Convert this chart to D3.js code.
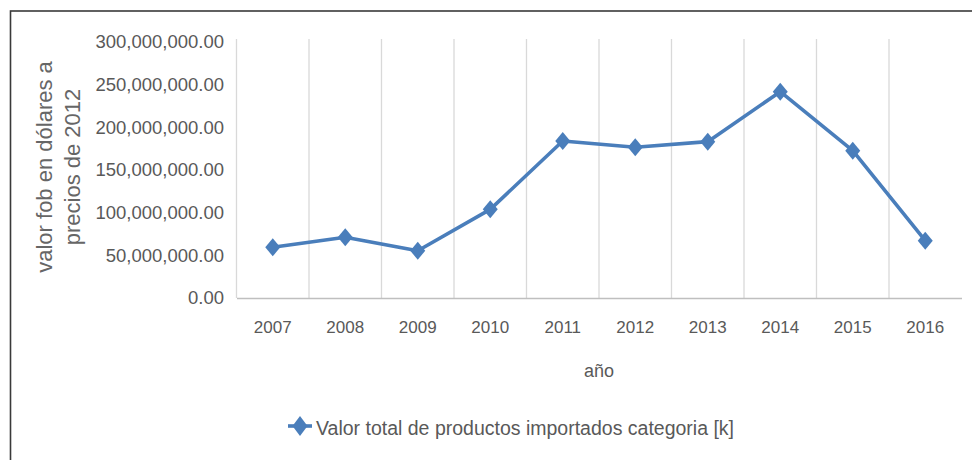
<!DOCTYPE html>
<html>
<head>
<meta charset="utf-8">
<script src="https://cdn.jsdelivr.net/npm/d3@7"></script>
<style>
  body { margin: 0; background: #fff; }
  svg { display: block; font-family: "Liberation Sans", Arial, sans-serif; }
  .tickText { fill: #595959; }
</style>
</head>
<body>
<div id="chart"></div>
<script>
// values (valor fob, dolares de 2012)
const years = [2007, 2008, 2009, 2010, 2011, 2012, 2013, 2014, 2015, 2016];
const values = [59.4e6, 71.1e6, 55.4e6, 103.9e6, 184.0e6, 176.6e6, 183.2e6, 241.8e6, 172.7e6, 67.2e6];
const yTicks = [0, 50e6, 100e6, 150e6, 200e6, 250e6, 300e6];
const seriesName = "Valor total de productos importados categoria [k]";

const width = 972, height = 460;
const lineColor = "#4a7ebb";

const svg = d3.select("#chart").append("svg")
  .attr("width", width)
  .attr("height", height);

// outer frame (right and bottom edges fall outside the picture)
svg.append("rect")
  .attr("x", 10.5).attr("y", 11)
  .attr("width", 1000).attr("height", 500)
  .attr("fill", "none")
  .attr("stroke", "#3a3a3a")
  .attr("stroke-width", 1.6);

const x = d3.scaleBand().domain(years).range([236.5, 961.5]);
const y = d3.scaleLinear().domain([0, 300e6]).range([298, 42]);

// vertical gridlines on the category boundaries
const bounds = years.map(d => x(d));
svg.append("g")
  .selectAll("line")
  .data(bounds)
  .join("line")
  .attr("x1", d => d).attr("x2", d => d)
  .attr("y1", 39).attr("y2", 298)
  .attr("stroke", "#d9d9d9")
  .attr("stroke-width", 1.3);

// y axis labels
const yAxis = svg.append("g")
  .attr("transform", `translate(${x.range()[0]},0)`)
  .call(d3.axisLeft(y).tickValues(yTicks).tickFormat(d3.format(",.2f")).tickSize(0).tickPadding(12.5));
yAxis.select(".domain").remove();
yAxis.selectAll("text")
  .attr("class", "tickText")
  .style("font-size", "18.5px")
  .style("font-family", "inherit");

// x axis
const xAxis = svg.append("g")
  .attr("transform", `translate(0,${y(0)})`)
  .call(d3.axisBottom(x).tickSize(0).tickPadding(23));
xAxis.select(".domain")
  .attr("stroke", "#bfbfbf")
  .attr("stroke-width", 1.3);
xAxis.selectAll("text")
  .attr("class", "tickText")
  .style("font-size", "17px")
  .style("font-family", "inherit");

// axis titles
svg.append("text")
  .attr("x", x.range()[0] + (x.range()[1] - x.range()[0]) / 2)
  .attr("y", 377)
  .attr("text-anchor", "middle")
  .attr("fill", "#595959")
  .style("font-size", "18px")
  .text("año");

const yTitle = svg.append("text")
  .attr("transform", "translate(0,167) rotate(-90)")
  .attr("text-anchor", "middle")
  .attr("fill", "#666")
  .style("font-size", "22px");
yTitle.append("tspan").attr("x", 0).attr("y", 52).text("valor fob en dólares a");
yTitle.append("tspan").attr("x", 0).attr("y", 80).text("precios de 2012");

// line + markers
const line = d3.line()
  .x(d => x(d.year) + x.bandwidth() / 2)
  .y(d => y(d.value));
const points = years.map((d, i) => ({ year: d, value: values[i] }));

svg.append("path")
  .datum(points)
  .attr("fill", "none")
  .attr("stroke", lineColor)
  .attr("stroke-width", 3.6)
  .attr("stroke-linejoin", "round")
  .attr("d", line);

function diamond(w, h) {
  return `M0,${-h / 2}L${w / 2},0L0,${h / 2}L${-w / 2},0Z`;
}

svg.append("g")
  .selectAll("path")
  .data(points)
  .join("path")
  .attr("transform", d => `translate(${x(d.year) + x.bandwidth() / 2},${y(d.value)})`)
  .attr("d", diamond(15, 18))
  .attr("fill", lineColor);

// legend
const legend = svg.append("g").attr("transform", "translate(300,426)");
legend.append("line")
  .attr("x1", -12).attr("x2", 12)
  .attr("stroke", lineColor)
  .attr("stroke-width", 3.6);
legend.append("path")
  .attr("d", diamond(15, 20))
  .attr("fill", lineColor);
legend.append("text")
  .attr("x", 16).attr("y", 9)
  .attr("fill", "#595959")
  .style("font-size", "19.5px")
  .text(seriesName);
</script>
</body>
</html>
